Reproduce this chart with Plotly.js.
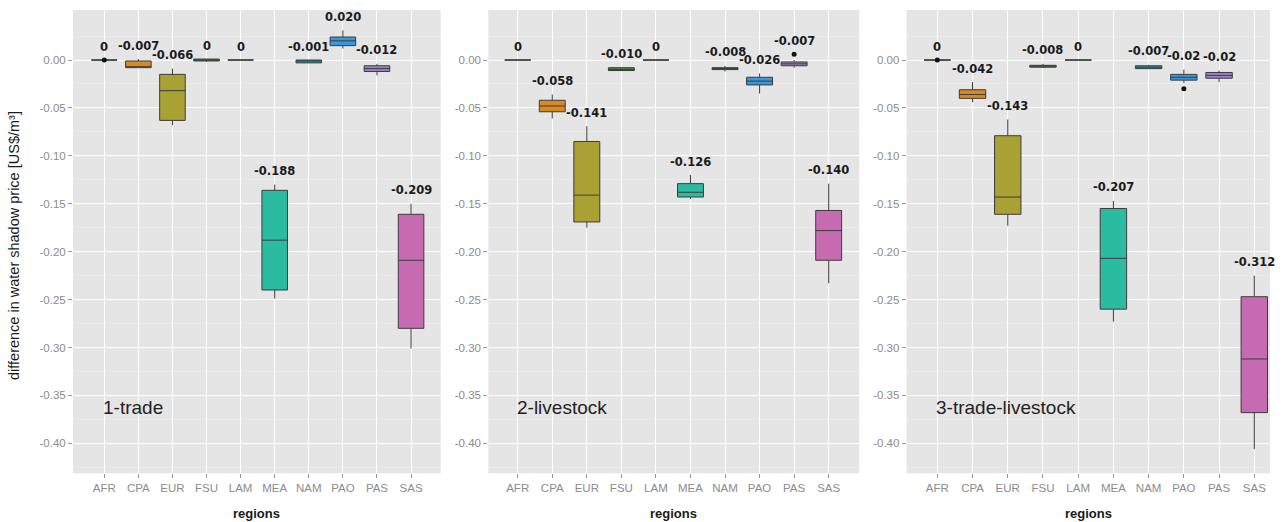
<!DOCTYPE html>
<html>
<head>
<meta charset="utf-8">
<script src="https://cdn.plot.ly/plotly-3.0.1.min.js"></script>
<style>
  html, body { margin: 0; padding: 0; background: #ffffff; }
  #chart { width: 1283px; height: 522px; }
</style>
</head>
<body>
<div id="chart"></div>
<script>
// Regions on the x axis
const regions = ['AFR', 'CPA', 'EUR', 'FSU', 'LAM', 'MEA', 'NAM', 'PAO', 'PAS', 'SAS'];
const scenarios = ['1-trade', '2-livestock', '3-trade-livestock'];

// y tick labels (US$/m³)
const yTickValues = [0, -0.05, -0.10, -0.15, -0.20, -0.25, -0.30, -0.35, -0.40];
const yTickLabels = ['0.00', '-0.05', '-0.10', '-0.15', '-0.20', '-0.25', '-0.30', '-0.35', '-0.40'];

// Scenario 1: trade
const tradeLower  = [0, -0.008, -0.068, -0.002, 0, -0.249, -0.003, 0.012, -0.016, -0.301];
const tradeQ1     = [0, -0.008, -0.063, -0.001, 0, -0.240, -0.003, 0.015, -0.012, -0.280];
const tradeMedian = [0, -0.007, -0.032,  0.000, 0, -0.188, -0.001, 0.020, -0.009, -0.209];
const tradeQ3     = [0, -0.001, -0.015,  0.001, 0, -0.136,  0.000, 0.024, -0.006, -0.161];
const tradeUpper  = [0,  0.001, -0.009,  0.001, 0, -0.130,  0.000, 0.031, -0.004, -0.150];
const tradeLabels = ['0', '-0.007', '-0.066', '0', '0', '-0.188', '-0.001', '0.020', '-0.012', '-0.209'];
const tradeOutliers = { AFR: [0] };

// Scenario 2: livestock
const livestockLower  = [0, -0.061, -0.175, -0.011, 0, -0.145, -0.012, -0.035, -0.008, -0.233];
const livestockQ1     = [0, -0.054, -0.169, -0.011, 0, -0.143, -0.010, -0.026, -0.006, -0.209];
const livestockMedian = [0, -0.048, -0.141, -0.010, 0, -0.138, -0.009, -0.022, -0.004, -0.178];
const livestockQ3     = [0, -0.042, -0.085, -0.008, 0, -0.129, -0.008, -0.018, -0.002, -0.157];
const livestockUpper  = [0, -0.036, -0.069, -0.008, 0, -0.120, -0.006, -0.014,  0.000, -0.129];
const livestockLabels = ['0', '-0.058', '-0.141', '-0.010', '0', '-0.126', '-0.008', '-0.026', '-0.007', '-0.140'];
const livestockOutliers = { PAS: [0.006] };

// Scenario 3: trade + livestock
const bothLower  = [0, -0.044, -0.173, -0.008,  0, -0.273, -0.009,  -0.024, -0.023, -0.406];
const bothQ1     = [0, -0.040, -0.161, -0.0075, 0, -0.260, -0.009,  -0.021, -0.019, -0.368];
const bothMedian = [0, -0.036, -0.143, -0.006,  0, -0.207, -0.0075, -0.018, -0.016, -0.312];
const bothQ3     = [0, -0.031, -0.079, -0.0055, 0, -0.155, -0.006,  -0.015, -0.013, -0.247];
const bothUpper  = [0, -0.023, -0.062, -0.004,  0, -0.147, -0.005,  -0.010, -0.011, -0.225];
const bothLabels = ['0', '-0.042', '-0.143', '-0.008', '0', '-0.207', '-0.007', '-0.02', '-0.02', '-0.312'];
const bothOutliers = { AFR: [0], PAO: [-0.030] };

// Fill colour per region
const regionColors = ['#E0766D', '#D8891F', '#A9A133', '#4C8C40', '#2F9A70',
                      '#2BBBA0', '#2A9AAE', '#3C96DA', '#9C82C8', '#C66BB2'];

const panels = [
  { lower: tradeLower, q1: tradeQ1, median: tradeMedian, q3: tradeQ3, upper: tradeUpper, labels: tradeLabels, outliers: tradeOutliers },
  { lower: livestockLower, q1: livestockQ1, median: livestockMedian, q3: livestockQ3, upper: livestockUpper, labels: livestockLabels, outliers: livestockOutliers },
  { lower: bothLower, q1: bothQ1, median: bothMedian, q3: bothQ3, upper: bothUpper, labels: bothLabels, outliers: bothOutliers }
];

const W = 1283, H = 522;
const xDomains = [[73 / W, 440.7 / W], [488.3 / W, 859.3 / W], [906.7 / W, 1270 / W]];
const xRanges = [[-0.918, 9.87], [-0.851, 9.886], [-0.869, 9.446]];
const yDomain = [1 - 473.3 / H, 1 - 10 / H];
const yRange = [-0.4313, 0.0522];

const traces = [];
const annotations = [];

panels.forEach((p, k) => {
  const xa = k === 0 ? 'x' : 'x' + (k + 1);
  const ya = k === 0 ? 'y' : 'y' + (k + 1);
  regions.forEach((r, i) => {
    traces.push({
      type: 'box',
      x: [r],
      q1: [p.q1[i]], median: [p.median[i]], q3: [p.q3[i]],
      lowerfence: [p.lower[i]], upperfence: [p.upper[i]],
      width: 0.75,
      whiskerwidth: 0,
      boxpoints: false,
      fillcolor: regionColors[i],
      line: { color: '#3c3c3c', width: 1 },
      xaxis: xa, yaxis: ya,
      hoverinfo: 'skip',
      showlegend: false
    });
    const pts = p.outliers[r] || [];
    if (pts.length) {
      traces.push({
        type: 'scatter', mode: 'markers',
        x: pts.map(() => r), y: pts,
        marker: { color: '#111111', size: 5 },
        xaxis: xa, yaxis: ya,
        hoverinfo: 'skip', showlegend: false
      });
    }
    const top = Math.max(p.upper[i], ...pts);
    annotations.push({
      xref: xa, yref: ya, x: r, y: top,
      text: p.labels[i], showarrow: false,
      xanchor: 'center', yanchor: 'middle', yshift: 13.5,
      font: { family: 'DejaVu Sans', size: 11.5, color: '#1a1a1a', weight: 'bold' }
    });
  });
  // scenario name inside the panel
  annotations.push({
    xref: xa, yref: ya, x: 0, y: -0.363,
    text: scenarios[k], showarrow: false,
    xanchor: 'left', yanchor: 'middle', xshift: -3,
    font: { family: 'Liberation Sans', size: 19, color: '#222222' }
  });
  // x axis title under each panel
  annotations.push({
    xref: 'paper', yref: 'paper',
    x: (xDomains[k][0] + xDomains[k][1]) / 2, y: 1 - 513 / H,
    text: 'regions', showarrow: false,
    xanchor: 'center', yanchor: 'middle',
    font: { family: 'Liberation Sans', size: 13, color: '#1a1a1a', weight: 'bold' }
  });
});

// y axis title
annotations.push({
  xref: 'paper', yref: 'paper',
  x: 14 / W, y: 1 - 246 / H,
  text: 'difference in water shadow price [US$/m³]', showarrow: false,
  textangle: -90, xanchor: 'center', yanchor: 'middle',
  font: { family: 'Liberation Sans', size: 14.5, color: '#1a1a1a' }
});

const layout = {
  width: W, height: H,
  margin: { l: 0, r: 0, t: 0, b: 0 },
  paper_bgcolor: '#ffffff',
  plot_bgcolor: '#E5E5E5',
  showlegend: false,
  boxmode: 'overlay',
  annotations: annotations
};

for (let k = 0; k < 3; k++) {
  const sfx = k === 0 ? '' : String(k + 1);
  layout['xaxis' + sfx] = {
    domain: xDomains[k],
    anchor: 'y' + sfx,
    type: 'category',
    categoryorder: 'array',
    categoryarray: regions,
    range: xRanges[k],
    showgrid: true, gridcolor: '#ffffff', gridwidth: 1,
    zeroline: false, showline: false,
    ticks: 'outside', ticklen: 4, tickcolor: '#9a9a9a', tickwidth: 1,
    tickfont: { family: 'Liberation Sans', size: 11.5, color: '#8c8c8c' }
  };
  layout['yaxis' + sfx] = {
    domain: yDomain,
    anchor: 'x' + sfx,
    range: yRange,
    tickvals: yTickValues,
    ticktext: yTickLabels,
    showgrid: true, gridcolor: '#ffffff', gridwidth: 1,
    minor: { tick0: 0.025, dtick: 0.05, showgrid: true, gridcolor: '#EFEFEF', gridwidth: 0.6, ticks: '' },
    zeroline: false, showline: false,
    ticks: 'outside', ticklen: 4, tickcolor: '#9a9a9a', tickwidth: 1,
    tickfont: { family: 'Liberation Sans', size: 11.5, color: '#8c8c8c' }
  };
}

Plotly.newPlot('chart', traces, layout, { staticPlot: true, displayModeBar: false });
</script>
</body>
</html>
